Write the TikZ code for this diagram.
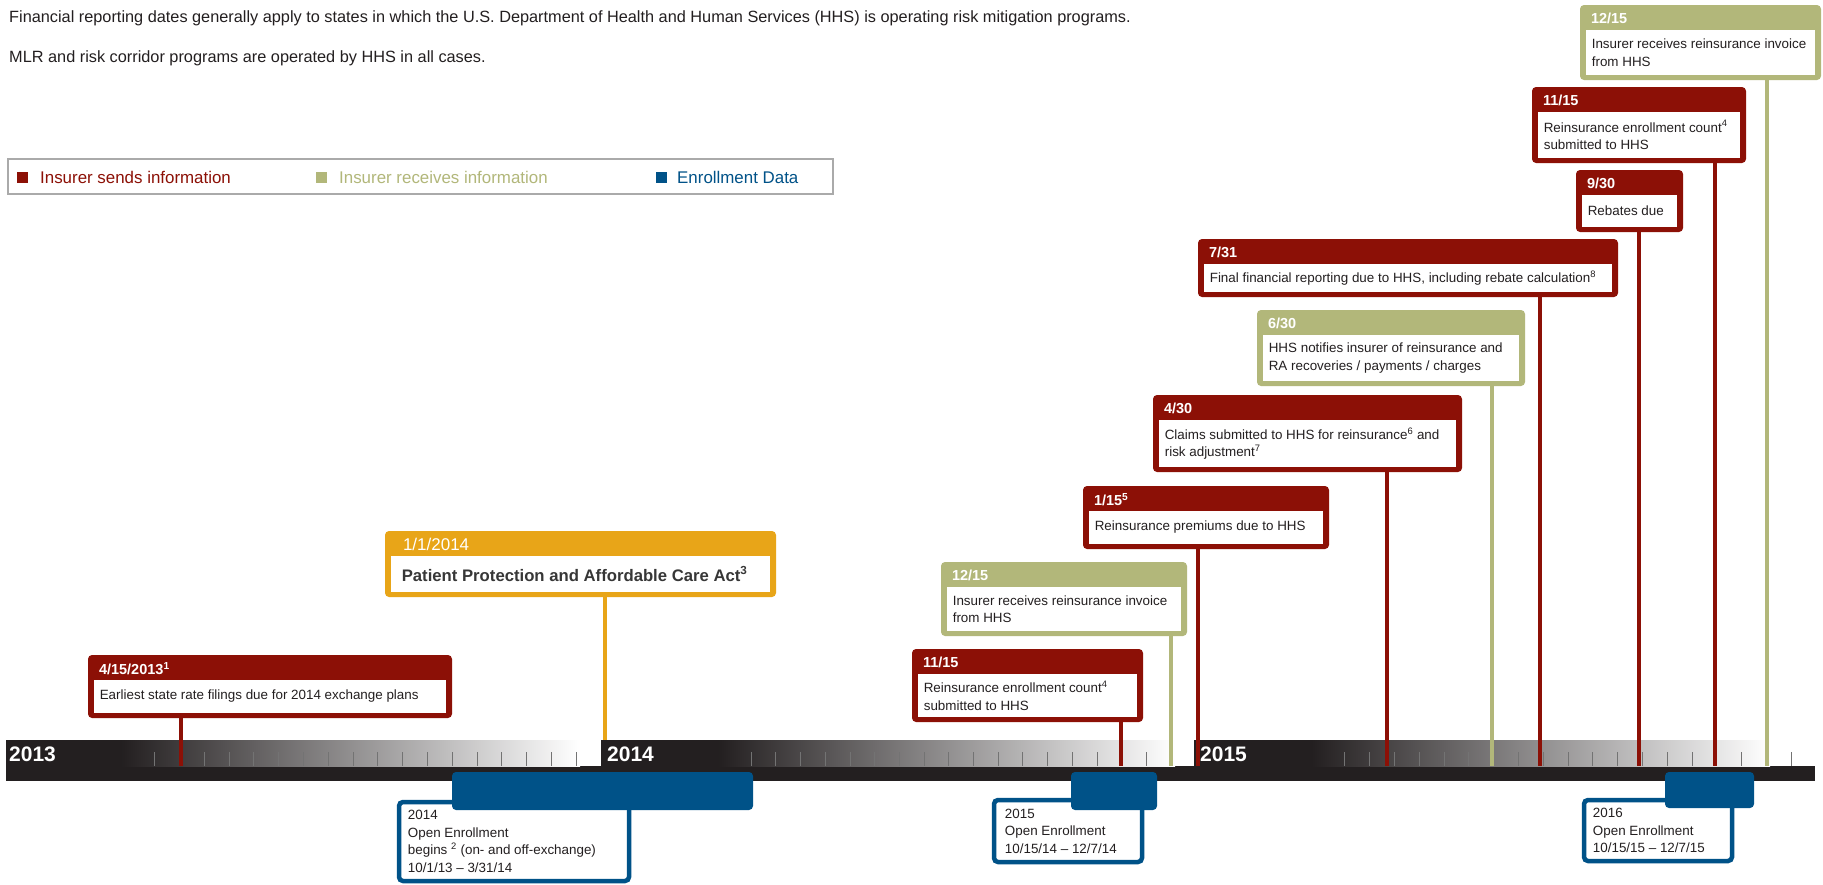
\documentclass[tikz,border=0pt]{standalone}
\usepackage{fontspec}
\setmainfont{Liberation Sans}
\usetikzlibrary{fit}
\definecolor{redc}{RGB}{140,16,6}
\definecolor{greenc}{RGB}{178,183,122}
\definecolor{bluec}{RGB}{0,82,136}
\definecolor{orangec}{RGB}{232,165,24}
\definecolor{barblack}{RGB}{35,31,32}
\definecolor{textc}{RGB}{35,31,32}
\definecolor{ptext}{RGB}{55,55,55}
\definecolor{tickc}{RGB}{115,115,115}
\definecolor{legframe}{RGB}{170,170,170}
\tikzset{
 cbox/.style={rectangle, rounded corners=4pt, inner sep=0pt, draw=none},
 cinner/.style={rectangle, fill=white, inner sep=0pt, draw=none},
 hdr/.style={anchor=west, inner sep=0pt, text=white, font={\bfseries\fontsize{14.5pt}{17pt}\selectfont}},
 bdy/.style={anchor=west, inner sep=0pt, text=textc, align=left, font={\fontsize{13.4pt}{17.5pt}\selectfont}},
 stem/.style={line width=4.5pt},
 ebox/.style={rectangle, rounded corners=4pt, draw=bluec, line width=4.5pt, fill=white, inner sep=0pt},
 ebar/.style={rectangle, rounded corners=4pt, fill=bluec, inner sep=0pt},
 yearlbl/.style={anchor=west, inner sep=0pt, text=white, font={\bfseries\fontsize{21pt}{24pt}\selectfont}},
 note/.style={anchor=west, inner sep=0pt, text=textc, font={\fontsize{16.3pt}{19pt}\selectfont}},
 legtxt/.style={anchor=west, inner sep=0pt, font={\fontsize{16.9pt}{19pt}\selectfont}},
 legsq/.style={rectangle, inner sep=0pt, minimum size=11pt},
 tickmark/.style={draw=tickc, line width=1pt},
}
\newcommand\callbox[8]{%
  \node[cbox, fill=#2, fit={(#3,#4) (#5,#6)}] (#1) {};
  \node[cinner, fit={([xshift=6pt,yshift=-25pt]#1.north west) ([xshift=-6pt,yshift=5pt]#1.south east)}] (#1i) {};
  \node[hdr] (#1h) at ([xshift=11pt,yshift=-14pt]#1.north west) {#7};
  \node[bdy] (#1t) at ([xshift=6pt]#1i.west) {#8};
}
\begin{document}
\begin{tikzpicture}[x=1pt,y=-1pt]
\useasboundingbox[fill=white] (0,0) rectangle (1823,884);

% notes
\node[note] (n1) at (9,18) {Financial reporting dates generally apply to states in which the U.S. Department of Health and Human Services (HHS) is operating risk mitigation programs.};
\node[note] (n2) at (9,58) {MLR and risk corridor programs are operated by HHS in all cases.};

% legend
\node[draw=legframe, line width=2.5pt, inner sep=0pt, fit={(8,159) (833,194)}] (leg) {};
\node[legsq, fill=redc] (lq1) at (22.5,177) {};
\node[legtxt, text=redc] (lt1) at (40,177) {Insurer sends information};
\node[legsq, fill=greenc] (lq2) at (321,177) {};
\node[legtxt, text=greenc] (lt2) at (339,177) {Insurer receives information};
\node[legsq, fill=bluec] (lq3) at (661.5,177) {};
\node[legtxt, text=bluec] (lt3) at (677,177) {Enrollment Data};

% timeline bar
\fill[barblack] (6,740) rectangle (1815,781);
\shade[left color=barblack, right color=white] (121,740) rectangle (580,766);
\fill[white] (580,740) rectangle (601,766);
\shade[left color=barblack, right color=white] (718,740) rectangle (1175,766);
\fill[white] (1175,740) rectangle (1194,766);
\shade[left color=barblack, right color=white] (1311,740) rectangle (1770,766);
\fill[white] (1770,740) rectangle (1815,766);
\foreach \k in {6,...,23} {
  \draw[tickmark] ({6+\k*24.79},752) -- ++(0,14);
  \draw[tickmark] ({603+\k*24.7},752) -- ++(0,14);
}
\foreach \k in {6,...,24} {
  \draw[tickmark] ({1196+\k*24.8},752) -- ++(0,14);
}
\node[yearlbl] (y13) at (9,754) {2013};
\node[yearlbl] (y14) at (607,754) {2014};
\node[yearlbl] (y15) at (1200,754) {2015};

% callouts
\callbox{b1}{redc}{88}{655}{452}{718}{4/15/2013\textsuperscript{1}}{Earliest state rate filings due for 2014 exchange plans}
\callbox{b2}{orangec}{385}{531}{776}{597}{\hspace*{7pt}\mdseries\fontsize{17pt}{20pt}\selectfont 1/1/2014}{\hspace*{5pt}\bfseries\color{ptext}\fontsize{16.7pt}{20pt}\selectfont Patient Protection and Affordable Care Act\textsuperscript{3}}
\callbox{b3}{greenc}{941}{562}{1187}{636}{12/15}{Insurer receives reinsurance invoice\\from HHS}
\callbox{b4}{redc}{912}{649}{1143}{722}{11/15}{Reinsurance enrollment count\textsuperscript{4}\\submitted to HHS}
\callbox{b5}{redc}{1083}{486}{1329}{549}{1/15\textsuperscript{5}}{Reinsurance premiums due to HHS}
\callbox{b6}{redc}{1153}{395}{1462}{472}{4/30}{Claims submitted to HHS for reinsurance\textsuperscript{6} and\\risk adjustment\textsuperscript{7}}
\callbox{b7}{greenc}{1257}{310}{1525}{386}{6/30}{HHS notifies insurer of reinsurance and\\RA recoveries / payments / charges}
\callbox{b8}{redc}{1198}{239}{1618}{297}{7/31}{Final financial reporting due to HHS, including rebate calculation\textsuperscript{8}}
\callbox{b9}{redc}{1576}{170}{1683}{232}{9/30}{Rebates due}
\callbox{b10}{redc}{1532}{87}{1746}{163}{11/15}{Reinsurance enrollment count\textsuperscript{4}\\submitted to HHS}
\callbox{b11}{greenc}{1580}{5}{1821}{80}{12/15}{Insurer receives reinsurance invoice\\from HHS}

% stems
\coordinate (s1) at (181,766);
\coordinate (s2) at (605,740);
\coordinate (s3) at (1171,766);
\coordinate (s4) at (1121,766);
\coordinate (s5) at (1198,766);
\coordinate (s6) at (1387,766);
\coordinate (s7) at (1492,766);
\coordinate (s8) at (1540,766);
\coordinate (s9) at (1639,766);
\coordinate (s10) at (1715,766);
\coordinate (s11) at (1767,766);
\draw[stem, redc] (b1.south -| s1) -- (s1);
\draw[stem, orangec] (b2.south -| s2) -- (s2);
\draw[stem, greenc] (b3.south -| s3) -- (s3);
\draw[stem, redc] (b4.south -| s4) -- (s4);
\draw[stem, redc] (b5.south -| s5) -- (s5);
\draw[stem, redc] (b6.south -| s6) -- (s6);
\draw[stem, greenc] (b7.south -| s7) -- (s7);
\draw[stem, redc] (b8.south -| s8) -- (s8);
\draw[stem, redc] (b9.south -| s9) -- (s9);
\draw[stem, redc] (b10.south -| s10) -- (s10);
\draw[stem, greenc] (b11.south -| s11) -- (s11);

% enrollment
\node[ebox, fit={(399,802) (629,881)}] (e1) {};
\node[ebar, fit={(452,772) (753,810)}] (e1b) {};
\node[bdy] (e1t) at ([xshift=11pt]e1.west) {2014\\Open Enrollment\\begins \textsuperscript{2} (on- and off-exchange)\\10/1/13 – 3/31/14};
\node[ebox, fit={(994,800) (1142,862)}] (e2) {};
\node[ebar, fit={(1071,772) (1157,810)}] (e2b) {};
\node[bdy] (e2t) at ([xshift=13pt]e2.west) {2015\\Open Enrollment\\10/15/14 – 12/7/14};
\node[ebox, fit={(1584,800) (1732,861)}] (e3) {};
\node[ebar, fit={(1665,772) (1754,808)}] (e3b) {};
\node[bdy] (e3t) at ([xshift=11pt]e3.west) {2016\\Open Enrollment\\10/15/15 – 12/7/15};
\end{tikzpicture}
\end{document}
